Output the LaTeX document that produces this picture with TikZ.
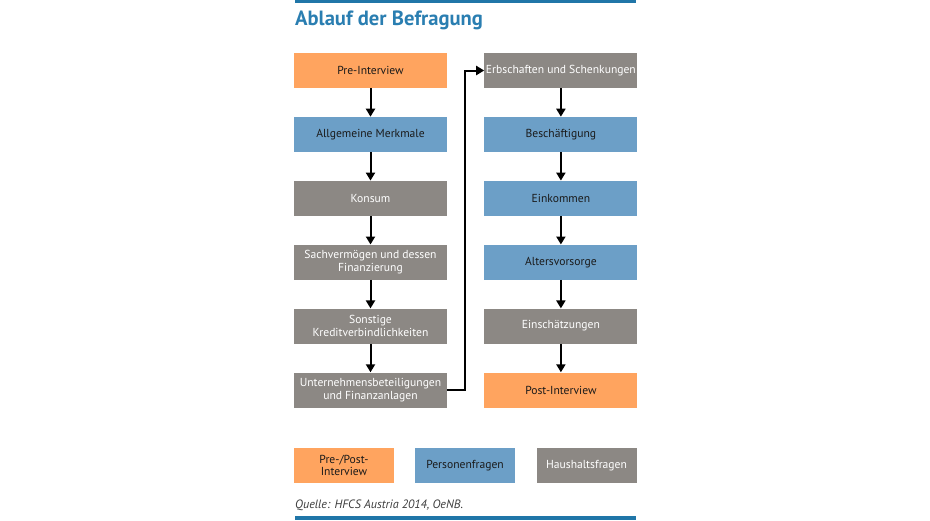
\documentclass[tikz,border=0pt]{standalone}
\usepackage{fontspec}
\setmainfont{PT Sans}
\usetikzlibrary{arrows.meta, positioning}
\definecolor{prepostorange}{RGB}{255,164,95}
\definecolor{personblue}{RGB}{108,159,199}
\definecolor{householdgray}{RGB}{140,136,132}
\definecolor{titleblue}{RGB}{42,126,177}
\definecolor{barblue}{RGB}{32,118,168}
\definecolor{textdark}{RGB}{26,26,26}
\definecolor{sourcegray}{RGB}{60,60,60}

\begin{document}
\begin{tikzpicture}[
    x=1pt, y=-1pt,
    node distance=28.5pt,
    every node/.style={font=\fontsize{11.6}{12.8}\selectfont},
    stepbase/.style={rectangle, minimum width=153pt, minimum height=35pt,
                     inner xsep=0pt, inner ysep=1pt, align=center},
    orangebox/.style={stepbase, fill=prepostorange, text=textdark},
    bluebox/.style={stepbase, fill=personblue, text=textdark},
    graybox/.style={stepbase, fill=householdgray, text=white},
    legendbox/.style={minimum width=100pt},
    flow/.style={-{Triangle[length=8pt, width=9pt]}, line width=2pt, black}
]
    \useasboundingbox (0,0) rectangle (930,520);

    % Bars and title
    \fill[barblue] (295,0) rectangle (636,3);
    \fill[barblue] (295,516) rectangle (636,520);
    \node[anchor=west, inner sep=0pt, text=titleblue,
          font=\fontsize{20.6}{22}\selectfont\bfseries] (title) at (295,20) {Ablauf der Befragung};

    % Left column
    \node[orangebox] (l1) at (370.5,70.5) {Pre-Interview};
    \node[bluebox, below=of l1] (l2) {Allgemeine Merkmale};
    \node[graybox, below=of l2] (l3) {Konsum};
    \node[graybox, below=of l3] (l4) {Sachvermögen und dessen\\Finanzierung};
    \node[graybox, below=of l4] (l5) {Sonstige\\Kreditverbindlichkeiten};
    \node[graybox, below=of l5] (l6) {Unternehmensbeteiligungen\\und Finanzanlagen};

    % Right column
    \node[graybox, right=37pt of l1] (r1) {Erbschaften und Schenkungen};
    \node[bluebox, below=of r1] (r2) {Beschäftigung};
    \node[bluebox, below=of r2] (r3) {Einkommen};
    \node[bluebox, below=of r3] (r4) {Altersvorsorge};
    \node[graybox, below=of r4] (r5) {Einschätzungen};
    \node[orangebox, below=of r5] (r6) {Post-Interview};

    % Arrows
    \draw[flow] (l1.south) -- (l2.north);
    \draw[flow] (l2.south) -- (l3.north);
    \draw[flow] (l3.south) -- (l4.north);
    \draw[flow] (l4.south) -- (l5.north);
    \draw[flow] (l5.south) -- (l6.north);
    \draw[flow] (l6.east) -- ++(18pt,0) |- (r1.west);
    \draw[flow] (r1.south) -- (r2.north);
    \draw[flow] (r2.south) -- (r3.north);
    \draw[flow] (r3.south) -- (r4.north);
    \draw[flow] (r4.south) -- (r5.north);
    \draw[flow] (r5.south) -- (r6.north);

    % Legend
    \node[orangebox, legendbox] (k1) at (344,465.5) {Pre-/Post-\\Interview};
    \node[bluebox, legendbox] (k2) at (465,465.5) {Personenfragen};
    \node[graybox, legendbox] (k3) at (586.5,465.5) {Haushaltsfragen};

    % Source
    \node[anchor=west, inner sep=0pt, text=sourcegray,
          font=\fontsize{12.1}{13}\selectfont\itshape] (source) at (295,505) {Quelle: HFCS Austria 2014, OeNB.};
\end{tikzpicture}
\end{document}
